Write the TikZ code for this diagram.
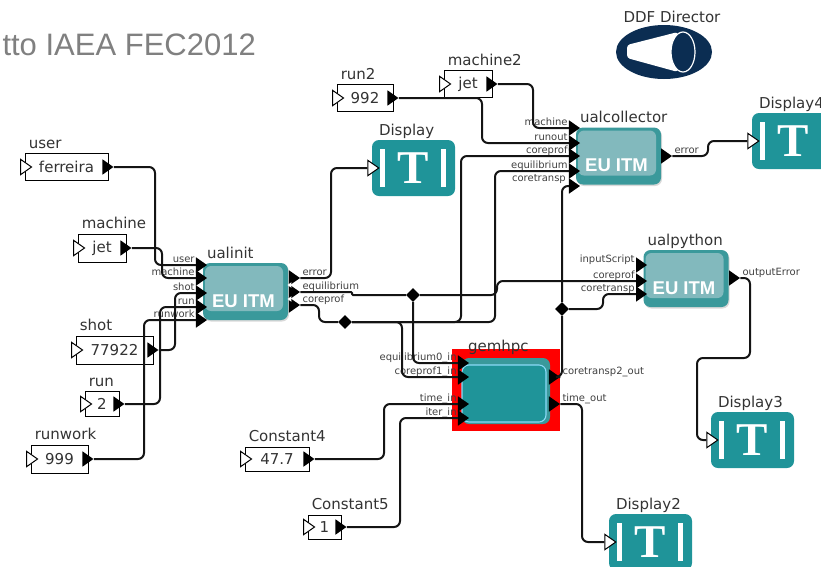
\documentclass[tikz,border=0pt]{standalone}
\usepackage{xcolor}
\usepackage{fontspec}
\usepackage{tikz}
\usetikzlibrary{positioning,shapes.geometric,shadows}
\setmainfont{DejaVu Sans}
\newfontfamily\slidefont{Liberation Sans}
\newfontfamily\displayfont{Liberation Serif}
\definecolor{tealdark}{HTML}{1F9499}
\definecolor{tealouter}{HTML}{3A999B}
\definecolor{teallight}{HTML}{82B9BD}
\definecolor{navy}{HTML}{0B2D52}
\newcommand{\constblock}[7]{
  \node[constbox, minimum width=#4pt, minimum height=#5pt] (#1) at (#2,#3) {#7};
  \node[blocklab, above right=4.5pt and 4pt of #1.north west] (#1Lab) {#6};
  \node[openport] (#1In) at (#1.west) {};
  \node[port, xshift=-2pt] (#1Out) at (#1.east) {};
}
\newcommand{\displayblock}[4]{
  \node[dispbox] (#1) at (#2,#3) {T};
  \node[dispbar, xshift=-31pt] (#1BarL) at (#1) {};
  \node[dispbar, xshift=30pt] (#1BarR) at (#1) {};
  \node[blocklab, above right=4.5pt and 7pt of #1.north west] (#1Lab) {#4};
  \node[openport] (#1In) at (#1.west) {};
}
\newcommand{\itublock}[4]{
  \node[itubox] (#1) at (#2,#3) {};
  \node[ituface, xshift=-1.5pt, yshift=3pt] (#1Face) at (#1) {};
  \node[itutext, xshift=-2pt, yshift=-9.5pt] (#1Text) at (#1) {EU ITM};
  \node[blocklab, above right=4.5pt and 4pt of #1.north west] (#1Lab) {#4};
}
\newcommand{\inport}[4]{
  \node[port] (#1) at (#2,#3) {};
  \node[portlab, anchor=base east] (#1Lab) at ([xshift=-1pt,yshift=3pt]#1.west) {#4};
}
\newcommand{\inportn}[4]{
  \inport{#1}{#2}{#3}{#4}
  \node[notch, xshift=1pt, yshift=-7pt] (#1N) at (#1) {};
}
\newcommand{\outport}[4]{
  \node[port] (#1) at (#2,#3) {};
  \node[portlab, anchor=base west] (#1Lab) at ([xshift=2pt,yshift=3pt]#1.east) {#4};
}
\begin{document}
\begin{tikzpicture}[
  x=1pt, y=-1pt,
  constbox/.style={draw=black, line width=0.9pt, fill=white, inner sep=0pt, font=\fontsize{15}{15}\selectfont, text=black!80},
  blocklab/.style={inner sep=0pt, text depth=0pt, font=\fontsize{15}{15}\selectfont, text=black!80},
  portlab/.style={inner sep=0pt, font=\fontsize{10}{10}\selectfont, text=black!75},
  port/.style={isosceles triangle, isosceles triangle apex angle=70, fill=black, inner sep=0pt, minimum height=11pt},
  openport/.style={isosceles triangle, isosceles triangle apex angle=70, draw=black, line width=1pt, fill=white, inner sep=0pt, minimum height=11pt},
  notch/.style={isosceles triangle, isosceles triangle apex angle=70, shape border rotate=180, fill=white, inner sep=0pt, minimum height=4pt},
  dispbox/.style={fill=tealdark, rounded corners=7pt, minimum width=83pt, minimum height=56pt, inner sep=0pt, text=white, font=\displayfont\bfseries\fontsize{47}{47}\selectfont},
  dispbar/.style={fill=white, inner sep=0pt, minimum width=4.5pt, minimum height=38pt},
  itubox/.style={fill=tealouter, rounded corners=7pt, minimum width=85pt, minimum height=57pt, drop shadow={shadow xshift=1pt, shadow yshift=-1.5pt, opacity=0.3}},
  ituface/.style={fill=teallight, rounded corners=6pt, minimum width=78pt, minimum height=45pt, inner sep=0pt},
  itutext/.style={inner sep=0pt, text=white, font=\slidefont\bfseries\fontsize{18.5}{18.5}\selectfont},
  wire/.style={draw=black!92, line width=2pt, rounded corners=6pt},
  junction/.style={diamond, fill=black, inner sep=0pt, minimum size=14pt}]
\useasboundingbox (0,0) rectangle (821,566);
\clip (0,0) rectangle (821,566);
\node[anchor=base east, inner sep=0pt, text=black!50, font=\slidefont\fontsize{31}{31}\selectfont] (slideTitle) at (256,55) {tto IAEA FEC2012};
% director
\node[ellipse, fill=navy, minimum width=96pt, minimum height=54pt, inner sep=0pt] (director) at (664,52) {};
\fill[white, rounded corners=3pt] (627,45) -- (678,32) -- (678,72) -- (627,58) -- cycle;
\node[ellipse, draw=white, line width=1.2pt, fill=navy, minimum width=24pt, minimum height=40pt, inner sep=0pt] (directorHorn) at (683,52) {};
\node[blocklab, anchor=base] (directorLab) at (672,22) {DDF Director};
% sources
\constblock{user}{66.5}{167}{83}{27}{user}{ferreira}
\constblock{machine}{102}{248}{48}{28}{machine}{jet}
\constblock{shot}{114.5}{350}{77}{28}{shot}{77922}
\constblock{run}{102}{404}{34}{25}{run}{2}
\constblock{runwork}{59.5}{459}{57}{28}{runwork}{999}
\constblock{constFour}{277}{459}{64}{24}{Constant4}{47.7}
\constblock{constFive}{324.5}{527}{33}{24}{Constant5}{1}
\constblock{runTwo}{365}{98}{56}{27}{run2}{992}
\constblock{machineTwo}{468}{84}{48}{27}{machine2}{jet}
% displays
\displayblock{display}{413.5}{168}{Display}
\displayblock{displayTwo}{650.5}{542}{Display2}
\displayblock{displayThree}{752.5}{440}{Display3}
\displayblock{displayFour}{793.5}{141}{Display4}
% actors
\itublock{ualinit}{245.5}{291.5}{ualinit}
\itublock{ualcollector}{618.5}{156}{ualcollector}
\itublock{ualpython}{686}{278.5}{ualpython}
\inportn{uiUser}{200}{265}{user}
\inportn{uiMachine}{200}{278}{machine}
\inportn{uiShot}{200}{293}{shot}
\inportn{uiRun}{200}{307}{run}
\inport{uiRunwork}{200}{320}{runwork}
\outport{uiError}{293}{278}{error}
\outport{uiEquil}{293}{292}{equilibrium}
\outport{uiCoreprof}{293}{305}{coreprof}
\node[notch, xshift=-3pt, yshift=-7pt] (uiEquilN) at (uiError) {};
\node[notch, xshift=-3pt, yshift=-7pt] (uiCoreprofN) at (uiEquil) {};
\inportn{ucMachine}{573}{128}{machine}
\inportn{ucRunout}{573}{143}{runout}
\inportn{ucCoreprof}{573}{156}{coreprof}
\inportn{ucEquil}{573}{171}{equilibrium}
\inportn{ucCoretransp}{573}{186}{}
\node[portlab, anchor=base east] (ucCoretranspLab) at (566,181) {coretransp};
\outport{ucError}{665}{156}{error}
\inportn{upScript}{640}{265}{inputScript}
\inportn{upCoreprof}{640}{281}{coreprof}
\inport{upCoretransp}{640}{294}{coretransp}
\outport{upError}{733}{278}{outputError}
% gemhpc
\node[fill=red, minimum width=108pt, minimum height=82pt, inner sep=0pt] (gemhpcBack) at (506,390) {};
\node[fill=tealouter, rounded corners=7pt, minimum width=88pt, minimum height=66pt, inner sep=0pt] (gemhpcShade) at (506,391) {};
\node[draw=cyan!45, line width=1.1pt, fill=tealdark, rounded corners=7pt, minimum width=84pt, minimum height=57pt, inner sep=0pt] (gemhpc) at (504,393.5) {};
\node[blocklab, above right=-3pt and 16pt of gemhpcBack.north west] (gemhpcLab) {gemhpc};
\inport{gemEq}{462}{363}{equilibrium0\_in}
\inport{gemCp}{462}{377}{coreprof1\_in}
\inport{gemTime}{462}{404}{time\_in}
\inport{gemIter}{462}{418}{iter\_in}
\outport{gemOutT}{553}{377}{coretransp2\_out}
\outport{gemOutTime}{553}{404}{time\_out}
% junctions
\node[junction] (junEq) at (413,295) {};
\node[junction] (junCp) at (345,322) {};
\node[junction] (junCt) at (562,309) {};
% wires
\draw[wire] (userOut) -- (155,167) -- (155,265) -- (uiUser);
\draw[wire] (machineOut) -- (162,248) -- (162,278) -- (uiMachine);
\draw[wire] (shotOut) -- (175,350) -- (175,293) -- (uiShot);
\draw[wire] (runOut) -- (160,404) -- (160,307) -- (uiRun);
\draw[wire] (runworkOut) -- (144,459) -- (144,320) -- (uiRunwork);
\draw[wire] (uiError) -- (331,278) -- (331,168) -- (displayIn);
\draw[wire, rounded corners=1pt] (uiEquil) -- (352,292) -- (352,295) -- (junEq);
\draw[wire] (junEq) -- (497,295) -- (497,281) -- (upCoreprof);
\draw[wire] (junEq) -- (413,363) -- (gemEq);
\draw[wire] (uiCoreprof) -- (319,305) -- (319,322) -- (junCp);
\draw[wire] (junCp) -- (461,322) -- (461,156) -- (ucCoreprof);
\draw[wire] (junCp) -- (495,322) -- (495,171) -- (ucEquil);
\draw[wire] (junCp) -- (402,322) -- (402,377) -- (gemCp);
\draw[wire] (gemOutT) -- (562,377) -- (junCt);
\draw[wire] (junCt) -- (562,186) -- (ucCoretransp);
\draw[wire] (junCt) -- (603,309) -- (603,294) -- (upCoretransp);
\draw[wire] (ucError) -- (708,156) -- (708,141) -- (displayFourIn);
\draw[wire] (upError) -- (750,278) -- (750,358) -- (697,358) -- (697,440) -- (displayThreeIn);
\draw[wire] (gemOutTime) -- (582,404) -- (582,542) -- (displayTwoIn);
\draw[wire] (constFourOut) -- (384,459) -- (384,404) -- (gemTime);
\draw[wire] (constFiveOut) -- (400,527) -- (400,418) -- (gemIter);
\draw[wire] (machineTwoOut) -- (533,84) -- (533,128) -- (ucMachine);
\draw[wire] (runTwoOut) -- (482,98) -- (482,143) -- (ucRunout);
\end{tikzpicture}
\end{document}
